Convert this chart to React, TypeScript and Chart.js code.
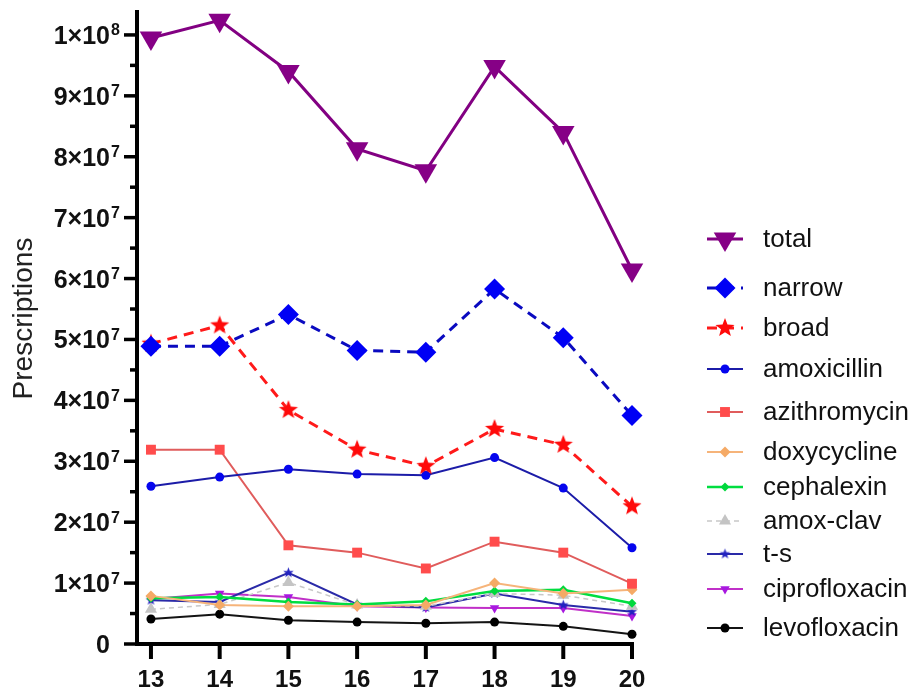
import React, { useEffect, useRef } from 'react';
import { Chart, registerables } from 'chart.js';
import { drawPoint } from 'chart.js/helpers';

Chart.register(...registerables);

// ---------- data ----------
const years = [13, 14, 15, 16, 17, 18, 19, 20];
const seriesNames = ['total', 'narrow', 'broad', 'amoxicillin', 'azithromycin', 'doxycycline', 'cephalexin', 'amox-clav', 't-s', 'ciprofloxacin', 'levofloxacin'];
const total = [9.95e7, 10.24e7, 9.4e7, 8.13e7, 7.77e7, 9.48e7, 8.4e7, 6.14e7];
const narrow = [4.89e7, 4.89e7, 5.41e7, 4.82e7, 4.79e7, 5.83e7, 5.03e7, 3.75e7];
const broad = [4.93e7, 5.23e7, 3.84e7, 3.19e7, 2.92e7, 3.53e7, 3.27e7, 2.26e7];
const amoxicillin = [2.59e7, 2.74e7, 2.87e7, 2.79e7, 2.77e7, 3.06e7, 2.56e7, 1.58e7];
const azithromycin = [3.19e7, 3.19e7, 1.62e7, 1.5e7, 1.24e7, 1.68e7, 1.5e7, 0.99e7];
const doxycycline = [0.79e7, 0.64e7, 0.62e7, 0.62e7, 0.64e7, 1.0e7, 0.83e7, 0.89e7];
const cephalexin = [0.75e7, 0.77e7, 0.69e7, 0.65e7, 0.7e7, 0.87e7, 0.89e7, 0.67e7];
const amoxClav = [0.57e7, 0.65e7, 1.01e7, 0.64e7, 0.62e7, 0.83e7, 0.8e7, 0.62e7];
const ts = [0.72e7, 0.69e7, 1.17e7, 0.65e7, 0.6e7, 0.83e7, 0.64e7, 0.53e7];
const ciprofloxacin = [0.74e7, 0.83e7, 0.77e7, 0.62e7, 0.6e7, 0.59e7, 0.59e7, 0.46e7];
const levofloxacin = [0.41e7, 0.49e7, 0.39e7, 0.36e7, 0.34e7, 0.36e7, 0.29e7, 0.16e7];

const yTickValues = [0, 1e7, 2e7, 3e7, 4e7, 5e7, 6e7, 7e7, 8e7, 9e7, 1e8];
const yTickMantissa = ['0', '1×10', '2×10', '3×10', '4×10', '5×10', '6×10', '7×10', '8×10', '9×10', '1×10'];
const yTickExponent = ['', '7', '7', '7', '7', '7', '7', '7', '7', '7', '8'];
const yMinorStep = 5e6;
const xTickLabels = ['13', '14', '15', '16', '17', '18', '19', '20'];
const yTitle = 'Prescriptions';

// ---------- layout ----------
const W = 917;
const H = 695;
const FONT = '"Liberation Sans", Arial, Helvetica, sans-serif';
const legendRowY = [239, 288, 328, 369, 412, 452, 487, 521, 554, 589, 628];

function makeStar(outer: number, inner: number, color: string) {
  const size = Math.ceil(outer * 2 + 2);
  const c = document.createElement('canvas');
  c.width = size;
  c.height = size;
  const ctx = c.getContext('2d')!;
  ctx.fillStyle = color;
  ctx.beginPath();
  for (let i = 0; i < 10; i++) {
    const r = i % 2 === 0 ? outer : inner;
    const a = -Math.PI / 2 + (i * Math.PI) / 5;
    const px = size / 2 + r * Math.cos(a);
    const py = size / 2 + r * Math.sin(a);
    if (i === 0) ctx.moveTo(px, py);
    else ctx.lineTo(px, py);
  }
  ctx.closePath();
  ctx.fill();
  return c;
}

const toPts = (arr: number[]) => years.map((x, i) => ({ x, y: arr[i] }));

const customPlugin = {
  id: 'customAxesLegend',
  beforeDatasetsDraw(chart: any) {
    const ctx = chart.ctx as CanvasRenderingContext2D;
    const xs = chart.scales.x;
    const ys = chart.scales.y;
    const left = chart.chartArea.left;
    const y0 = ys.getPixelForValue(0);
    const yTop = chart.chartArea.top - 3;
    const xEnd = xs.getPixelForValue(years[years.length - 1]);
    ctx.save();
    ctx.strokeStyle = '#000';
    ctx.fillStyle = '#000';
    ctx.setLineDash([]);
    ctx.lineWidth = 4;
    ctx.beginPath();
    ctx.moveTo(left - 2, yTop);
    ctx.lineTo(left - 2, y0 + 2);
    ctx.stroke();
    ctx.beginPath();
    ctx.moveTo(left - 4, y0);
    ctx.lineTo(xEnd + 2, y0);
    ctx.stroke();
    ctx.lineWidth = 3.5;
    for (let v = 0; v <= ys.max; v += yMinorStep) {
      const py = ys.getPixelForValue(v);
      const isMajor = Math.abs(v / 1e7 - Math.round(v / 1e7)) < 1e-6;
      ctx.beginPath();
      ctx.moveTo(left - (isMajor ? 15 : 9), py);
      ctx.lineTo(left - 2, py);
      ctx.stroke();
    }
    ctx.lineWidth = 4;
    years.forEach((yr) => {
      const px = xs.getPixelForValue(yr);
      ctx.beginPath();
      ctx.moveTo(px, y0);
      ctx.lineTo(px, y0 + 15);
      ctx.stroke();
    });
    ctx.restore();
  },
  afterDraw(chart: any) {
    const ctx = chart.ctx as CanvasRenderingContext2D;
    const xs = chart.scales.x;
    const ys = chart.scales.y;
    const left = chart.chartArea.left;
    const y0 = ys.getPixelForValue(0);
    ctx.save();
    ctx.fillStyle = '#111';
    yTickValues.forEach((v, i) => {
      const py = ys.getPixelForValue(v);
      ctx.font = `bold 25px ${FONT}`;
      ctx.textAlign = 'right';
      ctx.textBaseline = 'alphabetic';
      const rx = left - 29;
      ctx.fillText(yTickMantissa[i], rx, py + 9);
      if (yTickExponent[i]) {
        ctx.font = `bold 16px ${FONT}`;
        ctx.textAlign = 'left';
        ctx.fillText(yTickExponent[i], rx + 1, py + 0.5);
      }
    });
    ctx.font = `bold 24px ${FONT}`;
    ctx.textAlign = 'center';
    ctx.textBaseline = 'alphabetic';
    years.forEach((yr, i) => {
      ctx.fillText(xTickLabels[i], xs.getPixelForValue(yr), y0 + 43);
    });
    ctx.save();
    ctx.translate(32, (chart.chartArea.top + y0) / 2 - 10);
    ctx.rotate(-Math.PI / 2);
    ctx.font = `28px ${FONT}`;
    ctx.textAlign = 'center';
    ctx.textBaseline = 'alphabetic';
    ctx.fillStyle = '#222';
    ctx.fillText(yTitle, 0, 0);
    ctx.restore();
    chart.data.datasets.forEach((ds: any, i: number) => {
      const ly = legendRowY[i];
      ctx.save();
      ctx.strokeStyle = ds.borderColor;
      ctx.lineWidth = ds.borderWidth;
      ctx.setLineDash(ds.borderDash || []);
      ctx.beginPath();
      ctx.moveTo(707, ly);
      ctx.lineTo(743, ly);
      ctx.stroke();
      ctx.setLineDash([]);
      ctx.fillStyle = ds.pointBackgroundColor;
      ctx.strokeStyle = ds.pointBackgroundColor;
      drawPoint(ctx, { pointStyle: ds.pointStyle, rotation: ds.pointRotation || 0, radius: ds.pointRadius, borderWidth: 0 }, 725, ly);
      ctx.restore();
      ctx.font = `26px ${FONT}`;
      ctx.textAlign = 'left';
      ctx.textBaseline = 'middle';
      ctx.fillStyle = '#111';
      ctx.fillText(ds.label, 763, ly + 1);
    });
    ctx.restore();
  },
};

export default function App() {
  const ref = useRef<HTMLCanvasElement | null>(null);
  useEffect(() => {
    if (!ref.current) return;
    const redStar = makeStar(10, 4.2, '#ff0a0a');
    const blueStar = makeStar(5.5, 2.3, '#2222c0');
    const mk = (label: string, data: number[], s: any) => ({
      label,
      data: toPts(data),
      borderColor: s.line,
      backgroundColor: s.fill,
      pointBackgroundColor: s.fill,
      pointBorderColor: s.fill,
      pointBorderWidth: 0,
      borderWidth: s.width,
      borderDash: s.dash || [],
      pointStyle: s.style,
      pointRotation: s.rot || 0,
      pointRadius: s.r,
      pointHoverRadius: s.r,
      tension: 0,
      fill: false,
      clip: false,
    });
    const datasets = [
      mk(seriesNames[0], total, { line: '#820082', fill: '#860086', width: 3, style: 'triangle', rot: 180, r: 13 }),
      mk(seriesNames[1], narrow, { line: '#0a0ac0', fill: '#0000f5', width: 3, dash: [10, 7], style: 'rectRot', r: 10.5 }),
      mk(seriesNames[2], broad, { line: '#ff1a1a', fill: '#ff0a0a', width: 3, dash: [10, 7], style: redStar, r: 10 }),
      mk(seriesNames[3], amoxicillin, { line: '#1c1ca8', fill: '#0505ee', width: 2, style: 'circle', r: 4.5 }),
      mk(seriesNames[4], azithromycin, { line: '#e05c5c', fill: '#ff4c4c', width: 2, style: 'rect', r: 7 }),
      mk(seriesNames[5], doxycycline, { line: '#f6b47a', fill: '#f5aa66', width: 2, style: 'rectRot', r: 5.5 }),
      mk(seriesNames[6], cephalexin, { line: '#00de40', fill: '#00d83c', width: 2.5, style: 'rectRot', r: 4.5 }),
      mk(seriesNames[7], amoxClav, { line: '#c8c8c8', fill: '#c4c4c4', width: 1.5, dash: [5, 4], style: 'triangle', r: 7 }),
      mk(seriesNames[8], ts, { line: '#2a2aa8', fill: '#2222c0', width: 2, style: blueStar, r: 5 }),
      mk(seriesNames[9], ciprofloxacin, { line: '#c030c8', fill: '#a818e0', width: 2, style: 'triangle', rot: 180, r: 5.5 }),
      mk(seriesNames[10], levofloxacin, { line: '#141414', fill: '#000000', width: 2, style: 'circle', r: 4.5 }),
    ];
    const chart = new Chart(ref.current, {
      type: 'line',
      data: { datasets },
      options: {
        animation: false,
        responsive: false,
        maintainAspectRatio: false,
        layout: { padding: { left: 139, right: W - 632, top: 8, bottom: H - 644 } },
        plugins: { legend: { display: false }, tooltip: { enabled: false } },
        scales: {
          x: { type: 'linear', display: false, min: 12.826, max: 20 },
          y: { type: 'linear', display: false, min: 0, max: 1.036e8 },
        },
      },
      plugins: [customPlugin],
    } as any);
    return () => chart.destroy();
  }, []);
  return (
    <div style={{ position: 'fixed', left: 0, top: 0, width: W, height: H, background: '#fff' }}>
      <canvas ref={ref} width={W} height={H} style={{ width: W, height: H, display: 'block' }} />
    </div>
  );
}
